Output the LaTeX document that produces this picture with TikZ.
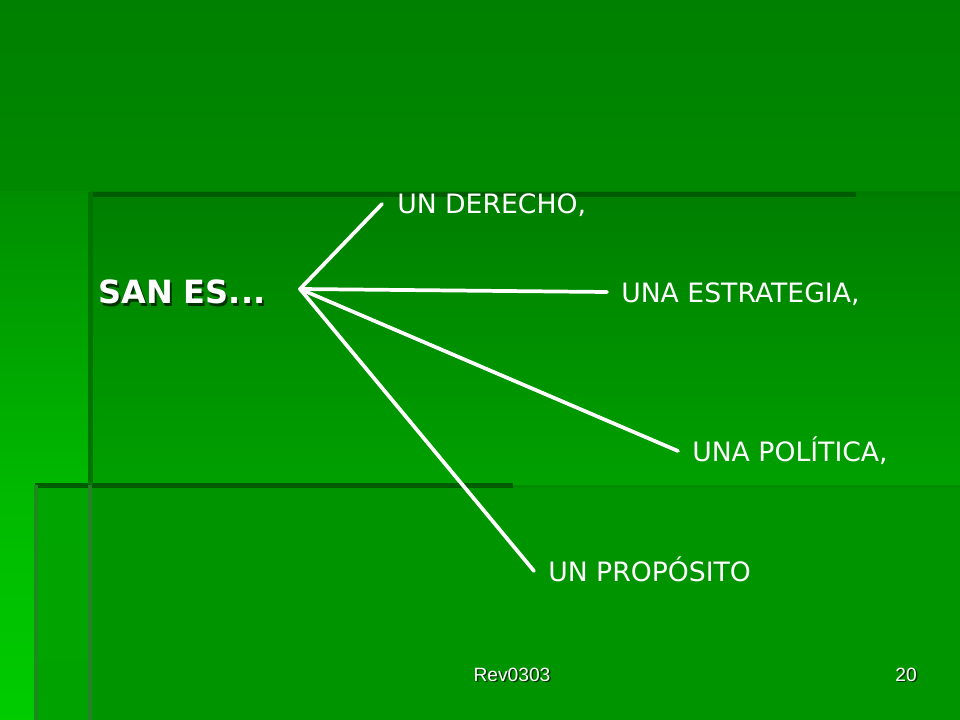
\documentclass[tikz,border=0pt]{standalone}
\usepackage{fontspec}
\setmainfont{DejaVu Sans}
\newfontfamily\footfont{Liberation Sans}
\definecolor{bgtop}{HTML}{008000}
\definecolor{bgmid}{HTML}{008900}
\definecolor{mainTop}{HTML}{007E00}
\definecolor{mainBot}{HTML}{00A000}
\definecolor{leftTop}{HTML}{008E00}
\definecolor{leftMid}{HTML}{00B800}
\definecolor{leftBot}{HTML}{00CC00}
\definecolor{lowA}{HTML}{00A400}
\definecolor{lowAb}{HTML}{00A200}
\definecolor{lowB}{HTML}{009400}
\definecolor{edgeDark}{HTML}{005C00}
\definecolor{edgeSoft}{HTML}{007400}
\definecolor{edgeSoftA}{HTML}{007A00}
\definecolor{edgeSoftB}{HTML}{008C00}
\definecolor{edgeGray}{HTML}{26802A}
\definecolor{shadowc}{HTML}{003300}
\tikzset{
  lbl/.style={text=white, anchor=base west, inner sep=0pt, font=\fontsize{20}{24}\selectfont},
  ray/.style={draw=white, line width=2.8pt, line cap=round},
  hubtxt/.style={anchor=base west, inner sep=0pt, font=\bfseries\fontsize{24}{28}\selectfont},
  foot/.style={anchor=base, inner sep=0pt, font=\footfont\fontsize{14.4}{17}\selectfont}
}
\begin{document}
\begin{tikzpicture}[x=0.75pt,y=-0.75pt]
\useasboundingbox (0,0) rectangle (960,720);
% background
\shade[top color=bgtop, bottom color=bgmid] (0,0) rectangle (960,192);
\shade[top color=leftTop, bottom color=leftMid] (0,192) rectangle (90,485);
\shade[top color=leftMid, bottom color=leftBot] (0,485) rectangle (35,720);
\shade[top color=mainTop, bottom color=mainBot] (90,192) rectangle (960,485);
\shade[top color=lowA, bottom color=lowAb] (35,485) rectangle (90,720);
\fill[lowB] (90,485) rectangle (960,720);
% edges
\fill[edgeSoftA] (856,192) rectangle (960,195);
\fill[edgeDark] (90,192) rectangle (856,197);
\fill[edgeSoftB] (512,485) rectangle (960,488);
\fill[edgeDark] (35,483) rectangle (513,488);
\fill[edgeSoft] (88,192) rectangle (93,485);
\fill[edgeGray] (88,485) rectangle (92,720);
\fill[edgeGray!70!lowA] (34,485) rectangle (38,720);
% hub text
\node[hubtxt, text=shadowc] at (100,306) {SAN ES...};
\node[hubtxt, text=white] (san) at (98,304) {SAN ES...};
\coordinate (hub) at (300,289);
% labels
\node[lbl] (derecho) at (397,214) {UN DERECHO,};
\node[lbl] (estrategia) at (621,302) {UNA ESTRATEGIA,};
\node[lbl] (politica) at (692,461) {UNA POLÍTICA,};
\node[lbl] (proposito) at (548,581) {UN PROPÓSITO};
% rays
\coordinate (e1) at (382,204);
\coordinate (e2) at (607,292);
\coordinate (e3) at (678,451);
\coordinate (e4) at (534,571);
\draw[ray] (hub) -- (e1);
\draw[ray] (hub) -- (e2);
\draw[ray] (hub) -- (e3);
\draw[ray] (hub) -- (e4);
% footer
\node[foot, text=shadowc] at (513.5,682.5) {Rev0303};
\node[foot, text=white] (rev) at (512,681) {Rev0303};
\node[foot, text=shadowc, anchor=base east] at (918.5,682.5) {20};
\node[foot, text=white, anchor=base east] (num) at (917,681) {20};
\end{tikzpicture}
\end{document}
